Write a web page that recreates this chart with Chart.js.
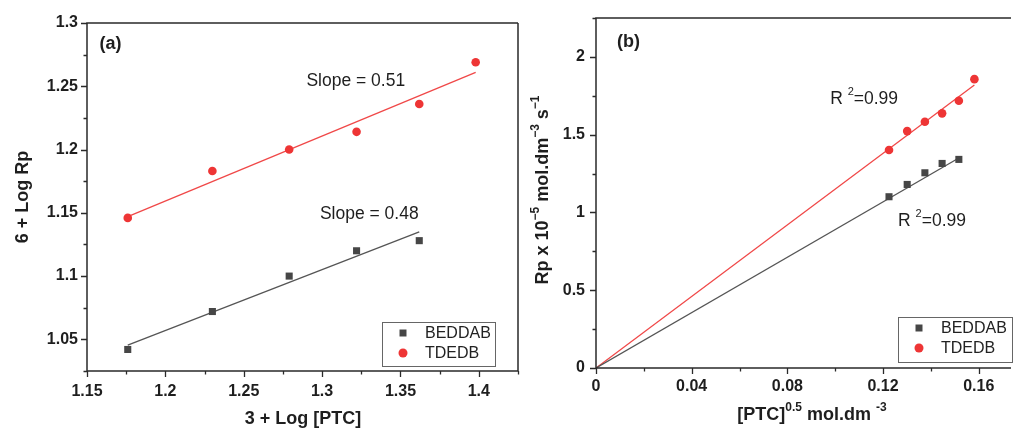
<!DOCTYPE html>
<html>
<head>
<meta charset="utf-8">
<script src="https://cdn.jsdelivr.net/npm/chart.js@4.4.1/dist/chart.umd.min.js"></script>
<style>
  html, body { margin: 0; padding: 0; background: #fff; }
  body { width: 1016px; height: 429px; position: relative; overflow: hidden; }
  canvas { position: absolute; top: 0; }
  #chartA { left: 0; }
  #chartB { left: 525px; }
</style>
</head>
<body>
<canvas id="chartA" width="525" height="429"></canvas>
<canvas id="chartB" width="491" height="429"></canvas>
<script>
// (a) 6 + log Rp against 3 + log [PTC]
const logPtcTDEDB = [1.176, 1.23, 1.279, 1.322, 1.362, 1.398];
const logRpTDEDB = [1.146, 1.183, 1.2, 1.214, 1.236, 1.269];
const logPtcBEDDAB = [1.176, 1.23, 1.279, 1.322, 1.362];
const logRpBEDDAB = [1.042, 1.072, 1.1, 1.12, 1.128];
// fitted lines, end points
const fitLogPtcTDEDB = [1.176, 1.398];
const fitLogRpTDEDB = [1.147, 1.261];
const fitLogPtcBEDDAB = [1.176, 1.362];
const fitLogRpBEDDAB = [1.0455, 1.135];

// (b) Rp against [PTC]^0.5
const sqrtPtcTDEDB = [0.1225, 0.1301, 0.1375, 0.1447, 0.1517, 0.1582];
const rpTDEDB = [1.401, 1.523, 1.583, 1.637, 1.718, 1.857];
const sqrtPtcBEDDAB = [0.1225, 0.1301, 0.1375, 0.1447, 0.1517];
const rpBEDDAB = [1.101, 1.18, 1.255, 1.315, 1.341];
const fitSqrtPtcTDEDB = [0, 0.1582];
const fitRpTDEDB = [0, 1.819];
const fitSqrtPtcBEDDAB = [0, 0.1517];
const fitRpBEDDAB = [0, 1.35];

// tick labels (major ticks); minor ticks sit half way between
const xTicksA = [1.15, 1.2, 1.25, 1.3, 1.35, 1.4];
const yTicksA = [1.05, 1.1, 1.15, 1.2, 1.25, 1.3];
const xTicksB = [0, 0.04, 0.08, 0.12, 0.16];
const yTicksB = [0, 0.5, 1, 1.5, 2];

const seriesNames = ["BEDDAB", "TDEDB"];

const FONT = "'Liberation Sans', Arial, sans-serif";
const AXIS = "#2a2a2a";
const RED = "#ee3535";
const RED_LINE = "#f04848";
const GREY = "#464646";
const GREY_LINE = "#555555";

function toPoints(xs, ys) {
  return xs.map((x, i) => ({ x: x, y: ys[i] }));
}

// majors plus the midpoints between them (and one more on each side)
function withMinors(majors) {
  const half = (majors[1] - majors[0]) / 2;
  const out = [];
  majors.forEach((v) => {
    out.push({ value: v, major: true });
    out.push({ value: +(v + half).toFixed(4), major: false });
  });
  out.unshift({ value: +(majors[0] - half).toFixed(4), major: false });
  return out;
}

// text with superscript parts, y is the middle of the normal text
function drawRich(ctx, segs, x, y, size, weight, align) {
  const supSize = Math.round(size * 0.65);
  let total = 0;
  segs.forEach((s) => {
    ctx.font = weight + " " + (s.sup ? supSize : size) + "px " + FONT;
    s.w = ctx.measureText(s.t).width;
    total += s.w;
  });
  let cx = align === "center" ? x - total / 2 : x;
  ctx.textAlign = "left";
  ctx.textBaseline = "middle";
  segs.forEach((s) => {
    ctx.font = weight + " " + (s.sup ? supSize : size) + "px " + FONT;
    ctx.fillText(s.t, cx, s.sup ? y - size * 0.42 : y);
    cx += s.w;
  });
}

// axis box and ticks (major long, minor short)
const framePlugin = {
  id: "frame",
  afterDraw(chart, args, opts) {
    const { ctx, chartArea: a, scales } = chart;
    ctx.save();
    ctx.strokeStyle = AXIS;
    ctx.lineWidth = 1.5;
    ctx.beginPath();
    ctx.moveTo(a.right, a.top);
    ctx.lineTo(a.left, a.top);
    ctx.lineTo(a.left, a.bottom);
    ctx.lineTo(a.right, a.bottom);
    if (opts.right) ctx.lineTo(a.right, a.top);
    ctx.stroke();

    ctx.lineWidth = 1.3;
    ctx.beginPath();
    withMinors(opts.xMajors).forEach((t) => {
      const px = scales.x.getPixelForValue(t.value);
      if (px < a.left - 1 || px > a.right + 1) return;
      ctx.moveTo(Math.round(px) + 0.5, a.bottom);
      ctx.lineTo(Math.round(px) + 0.5, a.bottom + (t.major ? 6 : 3.5));
    });
    withMinors(opts.yMajors).forEach((t) => {
      const py = scales.y.getPixelForValue(t.value);
      if (py < a.top - 1 || py > a.bottom + 1) return;
      ctx.moveTo(a.left, Math.round(py) + 0.5);
      ctx.lineTo(a.left - (t.major ? 6 : 3.5), Math.round(py) + 0.5);
    });
    ctx.stroke();
    ctx.restore();
  },
};

// axis titles and text notes
const notesPlugin = {
  id: "notes",
  afterDraw(chart, args, opts) {
    const { ctx, scales } = chart;
    ctx.save();
    ctx.fillStyle = "#1e1e1e";
    (opts.texts || []).forEach((n) => {
      const x = scales.x.getPixelForValue(n.x);
      const y = scales.y.getPixelForValue(n.y);
      drawRich(ctx, n.segs, x, y, n.size, n.weight || "normal", "left");
    });
    const xt = opts.xTitle;
    drawRich(ctx, xt.segs, xt.x, xt.y, 18, "bold", "center");
    const yt = opts.yTitle;
    ctx.translate(yt.x, yt.y);
    ctx.rotate(-Math.PI / 2);
    drawRich(ctx, yt.segs, 0, 0, 18, "bold", "center");
    ctx.restore();
  },
};

// boxed legend inside the plot
const boxLegendPlugin = {
  id: "boxLegend",
  afterDraw(chart, args, opts) {
    const { ctx } = chart;
    const b = opts.box;
    ctx.save();
    ctx.strokeStyle = "#666";
    ctx.lineWidth = 1;
    ctx.strokeRect(b.left + 0.5, b.top + 0.5, b.right - b.left, b.bottom - b.top);
    const items = chart.data.datasets.filter((d) => !d.showLine);
    items.forEach((d, i) => {
      const y = b.top + 11 + i * 20;
      ctx.fillStyle = d.backgroundColor;
      ctx.beginPath();
      if (d.pointStyle === "rect") {
        ctx.rect(b.left + 21 - 3.5, y - 3.5, 7, 7);
      } else {
        ctx.arc(b.left + 21, y, 4.5, 0, Math.PI * 2);
      }
      ctx.fill();
      ctx.fillStyle = "#222";
      ctx.font = "16px " + FONT;
      ctx.textAlign = "left";
      ctx.textBaseline = "middle";
      ctx.fillText(d.label, b.left + 43, y + 1);
    });
    ctx.restore();
  },
};

function pointSet(label, xs, ys, style, color) {
  return {
    label: label,
    data: toPoints(xs, ys),
    pointStyle: style,
    pointRadius: style === "rect" ? 5 : 4.3,
    pointHoverRadius: style === "rect" ? 5 : 4.3,
    backgroundColor: color,
    borderColor: color,
    borderWidth: 0,
    order: 1,
  };
}

function lineSet(xs, ys, color) {
  return {
    label: "fit",
    data: toPoints(xs, ys),
    showLine: true,
    pointRadius: 0,
    borderColor: color,
    borderWidth: 1.3,
    order: 2,
  };
}

function axis(min, max, majors, width, height, pad) {
  return {
    type: "linear",
    min: min,
    max: max,
    grid: { display: false, drawTicks: false },
    border: { display: false },
    afterBuildTicks(scale) {
      scale.ticks = majors.map((v) => ({ value: v }));
    },
    ticks: {
      autoSkip: false,
      maxRotation: 0,
      padding: pad,
      color: "#1e1e1e",
      font: { family: FONT, size: 16, weight: "bold" },
      callback: (v) => String(+(+v).toFixed(3)),
    },
    afterFit(scale) {
      if (width) scale.width = width;
      if (height) scale.height = height;
      scale.paddingLeft = 0;
      scale.paddingRight = 0;
      scale.paddingTop = 0;
      scale.paddingBottom = 0;
    },
  };
}

new Chart(document.getElementById("chartA"), {
  type: "scatter",
  data: {
    datasets: [
      pointSet(seriesNames[0], logPtcBEDDAB, logRpBEDDAB, "rect", GREY),
      pointSet(seriesNames[1], logPtcTDEDB, logRpTDEDB, "circle", RED),
      lineSet(fitLogPtcBEDDAB, fitLogRpBEDDAB, GREY_LINE),
      lineSet(fitLogPtcTDEDB, fitLogRpTDEDB, RED_LINE),
    ],
  },
  options: {
    responsive: false,
    animation: false,
    layout: { padding: { top: 23, right: 7, left: 0, bottom: 0 } },
    scales: {
      x: axis(1.15, 1.425, xTicksA, 0, 58, 11),
      y: axis(1.025, 1.3, yTicksA, 87, 0, 9),
    },
    plugins: {
      legend: { display: false },
      tooltip: { enabled: false },
      frame: { right: true, xMajors: xTicksA, yMajors: yTicksA },
      boxLegend: { box: { left: 382, top: 322, right: 495, bottom: 366 } },
      notes: {
        texts: [
          { segs: [{ t: "(a)" }], x: 1.158, y: 1.283, size: 18, weight: "bold" },
          { segs: [{ t: "Slope = 0.51" }], x: 1.29, y: 1.254, size: 17.5 },
          { segs: [{ t: "Slope = 0.48" }], x: 1.2986, y: 1.149, size: 17.5 },
        ],
        xTitle: { segs: [{ t: "3 + Log [PTC]" }], x: 303, y: 419 },
        yTitle: { segs: [{ t: "6 + Log Rp" }], x: 23, y: 197 },
      },
    },
  },
  plugins: [framePlugin, boxLegendPlugin, notesPlugin],
});

new Chart(document.getElementById("chartB"), {
  type: "scatter",
  data: {
    datasets: [
      pointSet(seriesNames[0], sqrtPtcBEDDAB, rpBEDDAB, "rect", GREY),
      pointSet(seriesNames[1], sqrtPtcTDEDB, rpTDEDB, "circle", RED),
      lineSet(fitSqrtPtcBEDDAB, fitRpBEDDAB, GREY_LINE),
      lineSet(fitSqrtPtcTDEDB, fitRpTDEDB, RED_LINE),
    ],
  },
  options: {
    responsive: false,
    animation: false,
    layout: { padding: { top: 18, right: 0, left: 0, bottom: 0 } },
    scales: {
      x: axis(0, 0.1735, xTicksB, 0, 61, 9),
      y: axis(0, 2.25, yTicksB, 71, 0, 11),
    },
    plugins: {
      legend: { display: false },
      tooltip: { enabled: false },
      frame: { right: false, xMajors: xTicksB, yMajors: yTicksB },
      boxLegend: { box: { left: 373, top: 317, right: 487, bottom: 362 } },
      notes: {
        texts: [
          { segs: [{ t: "(b)" }], x: 0.00875, y: 2.095, size: 18, weight: "bold" },
          { segs: [{ t: "R " }, { t: "2", sup: true }, { t: "=0.99" }], x: 0.0979, y: 1.729, size: 17.5 },
          { segs: [{ t: "R " }, { t: "2", sup: true }, { t: "=0.99" }], x: 0.1263, y: 0.945, size: 17.5 },
        ],
        xTitle: {
          segs: [{ t: "[PTC]" }, { t: "0.5", sup: true }, { t: " mol.dm " }, { t: "-3", sup: true }],
          x: 287, y: 415,
        },
        yTitle: {
          segs: [{ t: "Rp x 10" }, { t: "\u22125", sup: true }, { t: " mol.dm" }, { t: "\u22123", sup: true }, { t: " s" }, { t: "\u22121", sup: true }],
          x: 18, y: 190,
        },
      },
    },
  },
  plugins: [framePlugin, boxLegendPlugin, notesPlugin],
});
</script>
</body>
</html>
